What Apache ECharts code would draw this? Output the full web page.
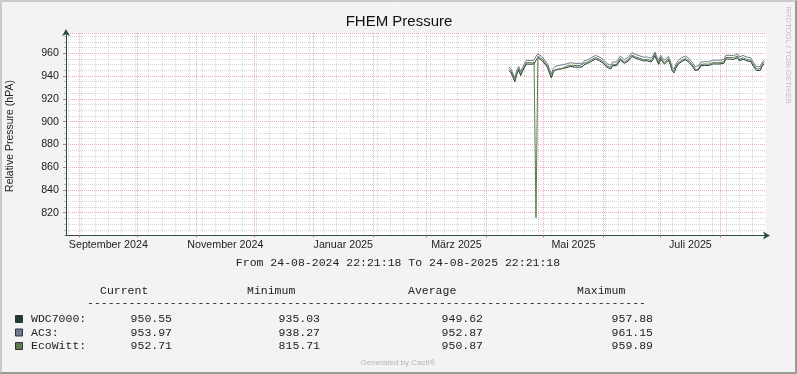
<!DOCTYPE html>
<html><head><meta charset="utf-8">
<script src="https://cdn.jsdelivr.net/npm/echarts@6/dist/echarts.min.js"></script>
<style>html,body{margin:0;padding:0;background:#f3f3f3}#c{width:797px;height:374px}</style>
</head><body><div id="c"></div>
<script>
// ---------- texts ----------
const chartTitle = 'FHEM Pressure';
const yAxisName = 'Relative Pressure (hPA)';
const rangeText = 'From 24-08-2024 22:21:18 To 24-08-2025 22:21:18';
const creditText = 'Generated by Cacti®';
const sideText = 'RRDTOOL / TOBI OETIKER';

// ---------- axes ----------
const rangeStart = '2024-08-24T22:21:18Z';
const rangeEnd = '2025-08-24T22:21:18Z';
const yMin = 800, yMax = 977.8, yMajor = 20, yMinor = 5;
const monthStarts = ['2024-09-01','2024-10-01','2024-11-01','2024-12-01','2025-01-01','2025-02-01','2025-03-01','2025-04-01','2025-05-01','2025-06-01','2025-07-01','2025-08-01'];
const labelMonthStart = ['2024-09-01','2024-11-01','2025-01-01','2025-03-01','2025-05-01','2025-07-01'];
const labelMonthEnd   = ['2024-10-01','2024-12-01','2025-02-01','2025-04-01','2025-06-01','2025-08-01'];
const labelTexts = ['September 2024','November 2024','Januar 2025','März 2025','Mai 2025','Juli 2025'];
const firstMonday = '2024-08-26';

// ---------- data (daily values from 2025-04-13) ----------
const dataStartDate = '2025-04-13';
const seriesNames = ['WDC7000','AC3','EcoWitt'];
const seriesColors = ['#1f3a38','#6e7b8e','#5c7b4c'];
const wdc7000 = [944.6,942.8,938.9,935.03,941.7,945.3,940.4,944.3,947.4,950.6,950.8,950.4,949.5,950.6,954.0,956.1,955.3,953.9,952.4,949.9,947.5,942.6,938.3,943.3,945.2,944.6,946.1,944.9,946.6,946.4,947.4,948.0,948.4,947.9,947.9,947.8,947.8,947.9,947.9,949.9,948.7,951.2,951.7,953.1,954.4,955.0,955.0,953.5,952.4,951.4,949.8,947.7,946.3,946.2,949.1,948.0,949.1,950.6,954.3,954.1,951.1,950.9,953.0,954.5,957.2,956.7,955.6,954.9,954.5,953.7,953.3,952.8,953.4,953.3,952.4,954.6,957.88,953.6,950.3,955.1,952.5,950.4,951.3,953.9,950.1,944.6,942.8,947.1,950.1,951.0,952.8,953.7,954.3,953.3,951.7,949.6,947.6,944.9,943.3,946.1,949.0,948.4,949.4,949.6,949.2,950.1,950.6,949.9,950.6,951.1,950.6,949.0,951.3,955.0,955.8,954.9,954.4,954.6,955.8,956.1,953.4,953.6,954.8,953.6,953.3,954.2,952.8,949.6,948.6,944.8,944.1,945.1,949.0,950.55];
const ac3 = [948.1,946.0,942.3,938.27,945.1,948.4,943.9,947.6,950.7,953.9,954.1,953.7,952.8,953.9,957.2,959.5,958.4,957.3,955.7,953.2,950.8,946.1,941.6,946.6,948.5,947.9,949.4,948.2,949.9,949.7,950.7,951.4,951.7,951.2,951.2,951.1,951.1,951.2,951.2,953.1,952.1,954.4,955.1,956.2,957.8,958.2,958.4,956.7,955.7,954.7,953.1,950.9,949.6,949.5,952.4,951.3,952.4,953.9,957.6,957.4,954.4,954.2,956.3,957.8,960.5,960.0,958.9,958.2,957.8,957.0,956.6,956.1,956.7,956.6,955.7,957.9,961.15,956.9,953.6,958.4,955.8,953.7,954.6,957.2,953.4,947.9,946.1,950.4,953.4,954.3,956.1,957.0,957.6,956.6,955.0,952.9,950.9,948.2,946.6,949.4,952.3,951.7,952.7,952.9,952.5,953.4,953.9,953.2,953.9,954.4,953.9,952.3,954.6,958.3,959.1,958.2,957.7,957.9,959.1,959.4,956.7,956.9,958.1,956.9,956.6,957.5,956.1,952.9,951.9,948.1,947.4,948.4,952.3,953.97];
const ecoWitt = [946.0,944.0,940.2,936.6,943.0,946.5,941.8,945.5,948.8,951.8,952.2,951.6,950.9,951.8,815.71,957.4,956.5,955.3,953.6,951.3,948.7,944.0,939.5,944.7,946.4,946.0,947.3,946.3,947.8,947.8,948.6,949.4,949.6,949.3,949.1,949.2,949.0,949.3,949.1,951.2,950.0,952.5,953.0,954.3,955.7,956.3,956.3,954.8,953.6,952.8,951.0,949.0,947.5,947.6,950.3,949.4,950.3,952.0,955.5,955.5,952.3,952.3,954.2,955.9,958.4,958.1,956.8,956.3,955.7,955.1,954.5,954.2,954.6,954.7,953.6,956.0,959.89,955.0,951.5,956.5,953.7,951.8,952.5,955.3,951.3,946.0,944.0,948.5,951.3,952.4,954.0,955.1,955.5,954.7,952.9,951.0,948.8,946.3,944.5,947.5,950.2,949.8,950.6,951.0,950.4,951.5,951.8,951.3,951.8,952.5,951.8,950.4,952.5,956.4,957.0,956.3,955.6,956.0,957.0,957.5,954.6,955.0,956.0,955.0,954.5,955.6,954.0,951.0,949.8,946.2,945.3,946.5,950.2,952.71];

// ---------- legend statistics ----------
const statHeaders = ['Current','Minimum','Average','Maximum'];
const statCurrent = ['950.55','953.97','952.71'];
const statMinimum = ['935.03','938.27','815.71'];
const statAverage = ['949.62','952.87','950.87'];
const statMaximum = ['957.88','961.15','959.89'];

// ---------- build ----------
const DAY = 86400000;
const t = s => Date.parse(s.length === 10 ? s + 'T00:00:00Z' : s);
const xMin = t(rangeStart), xMax = t(rangeEnd);
const monthTicks = monthStarts.map(t);
const labelPos = labelMonthStart.map((s, i) => (t(s) + t(labelMonthEnd[i])) / 2);
const weekTicks = [];
for (let w = t(firstMonday); w < xMax; w += 7 * DAY) weekTicks.push(w);
const d0 = t(dataStartDate);
const toPts = arr => arr.map((v, i) => [d0 + i * DAY, v]);
const seriesData = [wdc7000, ac3, ecoWitt];

const AXIS = '#2c4d43';
const MGRID = '#eeb0b0';
const GRID = '#d6d6d6';
const SANS = 'Liberation Sans, Arial, sans-serif';
const MONO = 'Liberation Mono, Courier New, monospace';
const TXT = '#222';

const chart = echarts.init(document.getElementById('c'), null, {renderer: 'canvas'});

const graphic = [];
graphic.push({type:'rect', shape:{x:0,y:0,width:797,height:374}, style:{fill:'#f3f3f3'}, z:-10, silent:true});
graphic.push({type:'polyline', shape:{points:[[0.5,373],[0.5,0.5],[796,0.5]]}, style:{stroke:'#cbcbcb', lineWidth:1, fill:null}, z:-5});
graphic.push({type:'polyline', shape:{points:[[1.5,372],[1.5,1.5],[795,1.5]]}, style:{stroke:'#cbcbcb', lineWidth:1, fill:null}, z:-5});
graphic.push({type:'polyline', shape:{points:[[0,373.5],[796.5,373.5],[796.5,0]]}, style:{stroke:'#999', lineWidth:1, fill:null}, z:-5});
graphic.push({type:'polyline', shape:{points:[[1,372.5],[795.5,372.5],[795.5,1]]}, style:{stroke:'#999', lineWidth:1, fill:null}, z:-5});
graphic.push({type:'text', x:399, y:22, style:{text:chartTitle, font:'15px ' + SANS, fill:'#111', textAlign:'center', textVerticalAlign:'middle'}});
graphic.push({type:'text', x:10, y:136, rotation:Math.PI/2, style:{text:yAxisName, font:'10.5px ' + SANS, fill:TXT, textAlign:'center', textVerticalAlign:'middle'}});
graphic.push({type:'text', x:788, y:55, rotation:-Math.PI/2, style:{text:sideText, font:'7.7px ' + SANS, fill:'#bdbdbd', textAlign:'center', textVerticalAlign:'middle'}});
graphic.push({type:'text', x:398, y:263, style:{text:rangeText, font:'11.5px ' + MONO, fill:TXT, textAlign:'center', textVerticalAlign:'middle'}});
const headX = [100, 247, 408, 577];
statHeaders.forEach((h, i) => graphic.push({type:'text', x:headX[i], y:290.5, style:{text:h, font:'11.5px ' + MONO, fill:TXT, textAlign:'left', textVerticalAlign:'middle'}}));
graphic.push({type:'text', x:87, y:303, style:{text:'-'.repeat(81), font:'11.5px ' + MONO, fill:TXT, textAlign:'left', textVerticalAlign:'middle'}});
const rowY = [319, 332.5, 346];
const colRight = [172, 320, 483, 653];
const cols = [statCurrent, statMinimum, statAverage, statMaximum];
seriesNames.forEach((n, r) => {
  graphic.push({type:'rect', shape:{x:15.5,y:rowY[r]-3.5,width:7,height:7}, style:{fill:seriesColors[r], stroke:'#333', lineWidth:1}});
  graphic.push({type:'text', x:31, y:rowY[r], style:{text:n + ':', font:'11.5px ' + MONO, fill:TXT, textAlign:'left', textVerticalAlign:'middle'}});
  cols.forEach((c, k) => graphic.push({type:'text', x:colRight[k], y:rowY[r], style:{text:c[r], font:'11.5px ' + MONO, fill:TXT, textAlign:'right', textVerticalAlign:'middle'}}));
});
graphic.push({type:'text', x:398, y:363, style:{text:creditText, font:'8px ' + SANS, fill:'#b4b4b4', textAlign:'center', textVerticalAlign:'middle'}});

const option = {
  animation: false,
  backgroundColor: '#f3f3f3',
  grid: {left:66, top:33, width:700, height:202.5, show:true, backgroundColor:'#ffffff', borderWidth:0, containLabel:false},
  xAxis: [
    { type:'value', min:xMin, max:xMax, position:'bottom', z:3,
      axisLine:{show:true, lineStyle:{color:AXIS, width:1}, symbol:['none','arrow'], symbolSize:[6,7], symbolOffset:[0,4]},
      axisTick:{show:true, customValues:monthTicks, length:2, lineStyle:{color:'#e07070'}},
      axisLabel:{show:true, customValues:labelPos, margin:4, fontFamily:SANS, fontSize:10.7, color:TXT,
        formatter: v => { let b = 0; labelPos.forEach((p,i)=>{ if (Math.abs(p-v) < Math.abs(labelPos[b]-v)) b = i; }); return labelTexts[b]; }},
      splitLine:{show:true, lineStyle:{color:MGRID, width:1, type:[1,1]}} },
    { type:'value', min:xMin, max:xMax, position:'bottom', z:1,
      axisLine:{show:false}, axisLabel:{show:false},
      axisTick:{show:false, customValues:weekTicks},
      splitLine:{show:true, lineStyle:{color:GRID, width:1, type:[1,1]}} }
  ],
  yAxis: [
    { type:'value', min:yMin, max:yMax, interval:yMajor, position:'left', z:3,
      axisLine:{show:true, lineStyle:{color:AXIS, width:1}, symbol:['none','arrow'], symbolSize:[6,7], symbolOffset:[0,4]},
      axisTick:{show:true, length:3, lineStyle:{color:'#e07070'}},
      axisLabel:{show:true, margin:7, fontFamily:SANS, fontSize:10.7, color:TXT, showMinLabel:false, showMaxLabel:false,
        formatter: v => (v % yMajor === 0 && v > yMin) ? String(v) : ''},
      splitLine:{show:true, lineStyle:{color:MGRID, width:1, type:[1,1]}} },
    { type:'value', min:yMin, max:yMax, interval:yMinor, position:'left', z:1,
      axisLine:{show:false}, axisLabel:{show:false},
      axisTick:{show:true, length:2, lineStyle:{color:'#bbbbbb'}},
      splitLine:{show:true, lineStyle:{color:GRID, width:1, type:[1,1]}} }
  ],
  series: seriesNames.map((n, i) => ({
    name:n, type:'line', xAxisIndex:0, yAxisIndex:0, z:5,
    data: toPts(seriesData[i]), showSymbol:false, symbol:'none',
    lineStyle:{color:seriesColors[i], width:1}, itemStyle:{color:seriesColors[i]}
  })),
  graphic: graphic
};
chart.setOption(option);
</script></body></html>
